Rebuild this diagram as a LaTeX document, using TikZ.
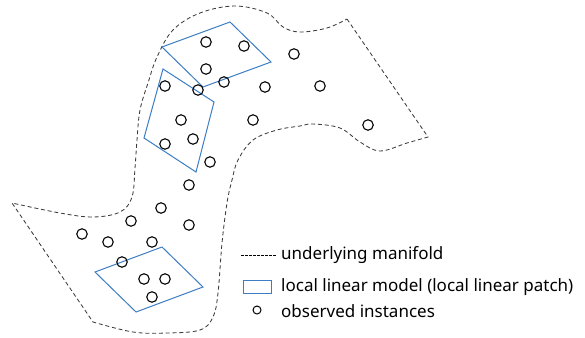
\documentclass[tikz,border=0pt]{standalone}
\usepackage{fontspec}
\setmainfont{Noto Sans}
\definecolor{patchblue}{RGB}{60,125,195}
\definecolor{mangray}{RGB}{60,60,60}
\begin{document}
\begin{tikzpicture}[x=1pt,y=-1pt,
  inst/.style={circle,draw=black,line width=1.1pt,minimum size=10.5pt,inner sep=0pt},
  manifold/.style={draw=mangray,line width=0.85pt,dash pattern=on 4pt off 2.8pt},
  patch/.style={draw=patchblue,line width=1pt},
  legtext/.style={anchor=west,inner sep=0pt,font=\fontsize{17pt}{20pt}\selectfont}]
\useasboundingbox (0,0) rectangle (585,337);
% manifold outline
\draw[manifold] (347,19) -- (428,137)
  -- plot[smooth,tension=0.6] coordinates {(428,137) (407,143) (380,151) (360,142) (340,128) (313,124) (300,126) (277,130) (253,140) (238,160) (232,180) (227,203) (222,243) (218,293) (213,317) (200,330) (167,333) (133,332) (93,322)}
  -- (12,203)
  -- plot[smooth,tension=0.6] coordinates {(12,203) (60,213) (93,217) (120,212) (132,197) (135,168) (137,140) (140,110) (148,83) (157,57) (173,30) (200,13) (235,6) (267,13) (283,27) (300,32) (327,28) (347,19)};
% local linear patches
\draw[patch] (162,47) -- (230,22) -- (271,62) -- (203,87) -- cycle;
\draw[patch] (163,69) -- (214,102) -- (196,172) -- (144,138) -- cycle;
\draw[patch] (95,272) -- (162,247) -- (203,287) -- (136,312) -- cycle;
% observed instances
\foreach \n/\x/\y in {1/206/42, 2/244/46, 3/294/54, 4/206/69, 5/224/82, 6/265/87, 7/165/86, 8/198/90, 9/320/86, 10/181/120, 11/253/120, 12/193/139, 13/165/144, 14/368/125, 15/210/162, 16/189/185, 17/161/208, 18/131/221, 19/189/225, 20/82/234, 21/108/242, 22/152/242, 23/122/262, 24/144/279, 25/165/279, 26/152/297}
  \node[inst] (c\n) at (\x,\y) {};
% legend
\coordinate (l1a) at (241,255);
\coordinate (l1b) at (277,255);
\draw[draw=black,line width=0.8pt,dash pattern=on 2.5pt off 1.5pt] (l1a) -- (l1b);
\node[legtext] (t1) at (281,255) {underlying manifold};
\node[draw=patchblue,line width=1pt,minimum width=28pt,minimum height=13pt,inner sep=0pt] (lp) at (257.5,286.5) {};
\node[legtext] (t2) at (281,287) {local linear model (local linear patch)};
\node[circle,draw=black,line width=1pt,minimum size=8pt,inner sep=0pt] (lc) at (257,310) {};
\node[legtext] (t3) at (281,311) {observed instances};
\end{tikzpicture}
\end{document}
